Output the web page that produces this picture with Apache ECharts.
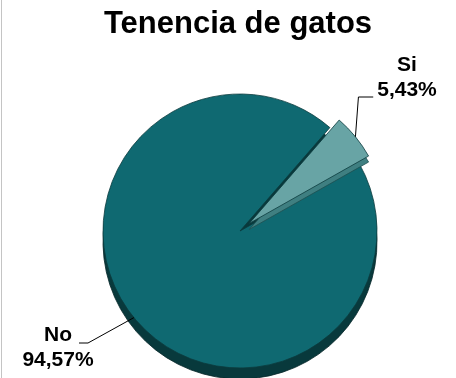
<!DOCTYPE html>
<html>
<head>
<meta charset="utf-8">
<script src="https://cdn.jsdelivr.net/npm/echarts@6/dist/echarts.min.js"></script>
<style>
  html, body { margin: 0; padding: 0; background: #fff; }
  #chart { width: 456px; height: 378px; }
</style>
</head>
<body>
<div id="chart"></div>
<script>
// Cat ownership survey: share of households
const chartTitle = 'Tenencia de gatos';
const categories = ['Si', 'No'];
const shares = [5.43, 94.57];
const topColors = ['#68a4a5', '#0f6971'];
const sideColors = ['#3f7f81', '#08393c'];

const FONT = '"Liberation Sans", Arial, sans-serif';
const fmtPct = v => v.toFixed(2).replace('.', ',') + '%';

const CENTER = [240, 231];
const RADIUS = 137;
const START = 49;
const EXPLODE = 12;

// pie data; `only` keeps one slice visible and makes the other transparent
function slices(colors, only, explode) {
  return categories.map((name, i) => ({
    name: name,
    value: shares[i],
    selected: explode && i === 0,
    itemStyle: {
      color: (only == null || only === i) ? colors[i] : 'rgba(0,0,0,0)',
      borderWidth: (only == null || only === i) ? 0.8 : 0
    }
  }));
}

function pie(extra) {
  return Object.assign({
    type: 'pie',
    center: CENTER,
    radius: RADIUS,
    startAngle: START,
    selectedMode: 'single',
    selectedOffset: EXPLODE,
    silent: true,
    label: { show: false },
    labelLine: { show: false }
  }, extra);
}

// where each label block sits (centre of the text block)
const labelSpots = {
  Si: { x: 407, y: 78 },
  No: { x: 58, y: 348 }
};

const chart = echarts.init(document.getElementById('chart'), null, { renderer: 'canvas' });

chart.setOption({
  animation: false,
  backgroundColor: '#ffffff',
  title: {
    text: chartTitle,
    left: 233,
    textAlign: 'center',
    top: 4,
    textStyle: { fontFamily: FONT, fontWeight: 'bold', fontSize: 31, color: '#000' }
  },
  graphic: [{
    type: 'line',
    shape: { x1: 1.5, y1: 0, x2: 1.5, y2: 378 },
    style: { stroke: '#c4c4c4', lineWidth: 1 },
    silent: true
  }],
  series: [
    // extruded side of the large slice
    pie({
      center: [CENTER[0], CENTER[1] + 11],
      itemStyle: { borderColor: '#062628' },
      data: slices(sideColors, 1, true)
    }),
    // extruded side of the small, pulled-out slice
    pie({
      center: [CENTER[0], CENTER[1] + 6],
      itemStyle: { borderColor: '#1d4f51' },
      data: slices(sideColors, 0, true)
    }),
    // top face
    pie({
      itemStyle: { borderColor: '#0b3b3e' },
      data: slices(topColors, null, true)
    }),
    // labels and leader lines
    pie({
      z: 5,
      itemStyle: { color: 'rgba(0,0,0,0)' },
      label: {
        show: true,
        position: 'outside',
        formatter: p => p.name + '\n' + fmtPct(p.value),
        fontFamily: FONT,
        fontWeight: 'bold',
        fontSize: 21,
        lineHeight: 25,
        color: '#000'
      },
      labelLine: {
        show: true,
        length: 15,
        length2: 10,
        lineStyle: { color: '#000', width: 1 }
      },
      labelLayout: function (params) {
        const name = categories[params.dataIndex];
        const spot = labelSpots[name];
        let p0 = params.labelLinePoints[0];
        const halfW = params.labelRect.width / 2;
        let pts;
        if (name === 'Si') {
          // anchor on the pulled-out slice's rim
          const dx = p0[0] - CENTER[0], dy = p0[1] - CENTER[1];
          const len = Math.hypot(dx, dy);
          p0 = [p0[0] + dx / len * EXPLODE, p0[1] + dy / len * EXPLODE];
          const yLine = spot.y + 19;
          pts = [p0, [p0[0] + 3, yLine], [spot.x - halfW - 4, yLine]];
        } else {
          const yLine = spot.y - 5;
          pts = [p0, [spot.x + 30, yLine], [spot.x + 21, yLine]];
        }
        return {
          x: spot.x,
          y: spot.y,
          align: 'center',
          verticalAlign: 'middle',
          labelLinePoints: pts
        };
      },
      data: categories.map((name, i) => ({ name: name, value: shares[i] }))
    })
  ]
});
</script>
</body>
</html>
